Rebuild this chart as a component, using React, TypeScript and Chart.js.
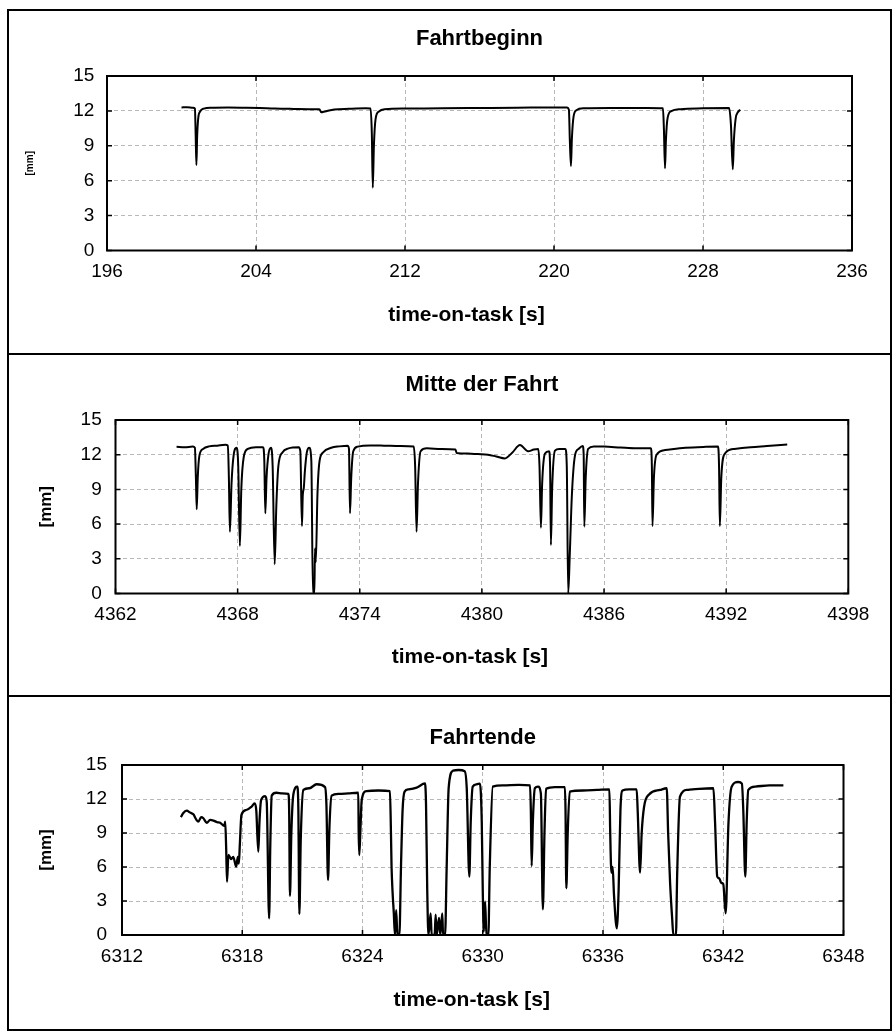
import React, { useEffect, useRef } from 'react';
import { Chart, registerables } from 'chart.js';

Chart.register(...registerables);

const FONT = '"Liberation Sans", Arial, Helvetica, sans-serif';

// ---------- Data ----------
const TITLES = ['Fahrtbeginn', 'Mitte der Fahrt', 'Fahrtende'];
const X_TITLE = 'time-on-task [s]';
const Y_TITLE = '[mm]';

const Y_TICKS = [0, 3, 6, 9, 12, 15];
const X1_TICKS = [196, 204, 212, 220, 228, 236];
const X2_TICKS = [4362, 4368, 4374, 4380, 4386, 4392, 4398];
const X3_TICKS = [6312, 6318, 6324, 6330, 6336, 6342, 6348];

const T1 = [200.0, 200.3, 200.62, 200.72, 200.76, 200.8, 200.84, 200.9, 201.0, 201.2, 201.6, 202.5, 203.5, 204.2, 205.0, 206.0, 207.0, 207.4, 207.5, 207.7, 208.2, 209.0, 209.9, 210.15, 210.22, 210.27, 210.33, 210.42, 210.6, 210.9, 212.0, 214.0, 216.0, 218.0, 220.0, 220.7, 220.8, 220.85, 220.91, 220.96, 221.05, 221.2, 221.6, 223.0, 225.0, 225.85, 225.9, 225.96, 226.01, 226.1, 226.3, 226.8, 228.0, 229.4, 229.5, 229.6, 229.66, 229.75, 229.88, 230.0];
const V1 = [12.3, 12.32, 12.28, 12.2, 10.0, 7.35, 9.8, 11.4, 11.95, 12.2, 12.28, 12.3, 12.28, 12.25, 12.2, 12.17, 12.15, 12.15, 11.88, 11.95, 12.12, 12.18, 12.22, 12.2, 10.0, 5.4, 9.0, 11.3, 11.95, 12.15, 12.2, 12.23, 12.25, 12.27, 12.3, 12.3, 12.1, 9.5, 7.27, 9.6, 11.5, 12.05, 12.22, 12.25, 12.25, 12.22, 10.5, 7.07, 9.5, 11.4, 11.98, 12.15, 12.22, 12.25, 10.8, 6.98, 9.5, 11.3, 11.9, 12.1];

const T2 = [4365.0, 4365.4, 4365.8, 4365.9, 4365.95, 4365.99, 4366.04, 4366.12, 4366.3, 4366.6, 4367.0, 4367.4, 4367.52, 4367.57, 4367.62, 4367.7, 4367.8, 4367.95, 4368.03, 4368.11, 4368.18, 4368.3, 4368.5, 4368.9, 4369.25, 4369.31, 4369.36, 4369.42, 4369.52, 4369.64, 4369.72, 4369.82, 4369.9, 4370.0, 4370.2, 4370.5, 4371.0, 4371.08, 4371.16, 4371.2, 4371.25, 4371.3, 4371.4, 4371.52, 4371.62, 4371.7, 4371.77, 4371.8, 4371.84, 4371.92, 4372.02, 4372.2, 4372.6, 4373.0, 4373.4, 4373.47, 4373.52, 4373.58, 4373.68, 4373.9, 4374.5, 4375.2, 4376.0, 4376.65, 4376.72, 4376.79, 4376.86, 4376.99, 4377.3, 4378.0, 4378.7, 4378.76, 4379.3, 4379.8, 4380.3, 4380.7, 4381.13, 4381.5, 4381.87, 4382.27, 4382.55, 4382.77, 4382.83, 4382.9, 4382.96, 4383.1, 4383.3, 4383.35, 4383.39, 4383.45, 4383.59, 4383.8, 4384.1, 4384.17, 4384.24, 4384.32, 4384.42, 4384.57, 4384.75, 4384.95, 4385.0, 4385.03, 4385.1, 4385.22, 4385.5, 4386.0, 4386.8, 4387.6, 4388.3, 4388.35, 4388.38, 4388.45, 4388.58, 4389.0, 4390.0, 4391.0, 4391.6, 4391.65, 4391.69, 4391.76, 4391.94, 4392.4, 4393.2, 4394.0, 4395.0];
const V2 = [12.68, 12.65, 12.7, 12.6, 10.0, 7.28, 10.0, 11.9, 12.5, 12.72, 12.78, 12.85, 12.8, 10.0, 5.34, 9.5, 11.9, 12.6, 11.0, 4.1, 9.0, 11.8, 12.5, 12.65, 12.65, 11.5, 6.93, 10.0, 12.1, 12.6, 11.0, 2.52, 7.5, 11.0, 12.2, 12.55, 12.65, 12.3, 5.83, 8.5, 9.1, 10.5, 12.2, 12.6, 11.5, 0, 0, 3.9, 2.7, 8.5, 11.4, 12.2, 12.6, 12.72, 12.78, 12.5, 6.93, 10.0, 12.3, 12.7, 12.8, 12.78, 12.75, 12.7, 11.0, 5.34, 9.5, 12.3, 12.55, 12.5, 12.45, 12.15, 12.1, 12.05, 12.0, 11.85, 11.68, 12.2, 12.83, 12.3, 12.45, 12.5, 11.0, 5.69, 9.5, 12.1, 12.3, 11.0, 4.19, 9.0, 12.35, 12.5, 12.5, 11.0, 0, 3.5, 8.5, 11.9, 12.5, 12.75, 12.0, 5.77, 10.0, 12.5, 12.7, 12.7, 12.62, 12.55, 12.55, 11.0, 5.83, 10.0, 12.0, 12.4, 12.6, 12.68, 12.7, 11.0, 5.83, 10.0, 12.1, 12.5, 12.65, 12.75, 12.88];

const T3 = [6314.94, 6315.05, 6315.23, 6315.4, 6315.56, 6315.7, 6315.81, 6315.95, 6316.06, 6316.23, 6316.4, 6316.56, 6316.75, 6316.9, 6317.1, 6317.15, 6317.2, 6317.24, 6317.31, 6317.45, 6317.55, 6317.7, 6317.78, 6317.83, 6317.88, 6317.96, 6318.2, 6318.45, 6318.62, 6318.7, 6318.8, 6318.86, 6318.94, 6319.14, 6319.22, 6319.34, 6319.4, 6319.47, 6319.7, 6320.0, 6320.3, 6320.34, 6320.38, 6320.45, 6320.55, 6320.75, 6320.8, 6320.85, 6320.92, 6321.05, 6321.35, 6321.71, 6322.13, 6322.2, 6322.28, 6322.35, 6322.46, 6322.8, 6323.3, 6323.79, 6323.81, 6323.84, 6323.9, 6323.96, 6324.2, 6324.8, 6325.37, 6325.42, 6325.45, 6325.5, 6325.56, 6325.62, 6325.68, 6325.74, 6325.84, 6325.92, 6326.0, 6326.1, 6326.3, 6326.7, 6327.12, 6327.17, 6327.23, 6327.29, 6327.4, 6327.45, 6327.6, 6327.65, 6327.7, 6327.82, 6327.88, 6327.98, 6328.02, 6328.12, 6328.2, 6328.3, 6328.52, 6328.8, 6329.1, 6329.2, 6329.33, 6329.4, 6329.5, 6329.7, 6329.86, 6329.95, 6330.0, 6330.05, 6330.12, 6330.18, 6330.28, 6330.35, 6330.5, 6331.0, 6331.8, 6332.36, 6332.4, 6332.44, 6332.5, 6332.6, 6332.76, 6332.9, 6333.0, 6333.08, 6333.16, 6333.6, 6334.1, 6334.13, 6334.17, 6334.24, 6334.34, 6335.0, 6335.7, 6336.32, 6336.36, 6336.42, 6336.48, 6336.55, 6336.69, 6336.78, 6336.87, 6336.97, 6337.3, 6337.68, 6337.73, 6337.85, 6337.93, 6338.05, 6338.3, 6338.85, 6339.18, 6339.25, 6339.35, 6339.45, 6339.51, 6339.64, 6339.7, 6339.84, 6340.2, 6340.8, 6341.51, 6341.59, 6341.7, 6341.8, 6341.9, 6342.0, 6342.12, 6342.26, 6342.42, 6342.75, 6342.93, 6343.0, 6343.1, 6343.17, 6343.25, 6343.6, 6344.3, 6345.0];
const V3 = [10.4, 10.75, 10.97, 10.8, 10.65, 10.2, 10.0, 10.4, 10.3, 9.9, 10.15, 10.1, 9.95, 9.9, 9.62, 10.0, 7.5, 4.7, 7.06, 6.7, 6.9, 6.03, 6.9, 6.3, 8.0, 10.6, 11.03, 11.3, 11.62, 11.0, 7.35, 10.0, 11.9, 12.25, 11.8, 1.47, 8.0, 12.3, 12.55, 12.5, 12.45, 11.0, 3.44, 9.0, 12.4, 13.09, 11.0, 1.85, 8.5, 12.8, 12.95, 13.3, 13.05, 11.5, 4.85, 9.5, 12.3, 12.45, 12.5, 12.55, 9.0, 7.06, 9.5, 11.9, 12.7, 12.75, 12.7, 9.0, 6.03, 3.8, 2.0, 0, 2.2, 0, 0, 6.0, 11.0, 12.65, 12.85, 13.0, 13.37, 11.5, 4.0, 0, 1.9, 0, 0, 1.8, 0, 1.5, 0, 1.9, 0, 0, 6.0, 13.0, 14.5, 14.56, 14.45, 13.0, 5.15, 10.0, 13.09, 13.3, 13.35, 10.0, 4.0, 0.3, 2.94, 0, 0, 6.0, 13.09, 13.2, 13.25, 13.2, 11.0, 6.09, 10.0, 12.95, 13.09, 12.5, 2.27, 9.0, 12.9, 13.05, 13.05, 11.0, 4.12, 9.0, 12.65, 12.75, 12.8, 12.85, 9.0, 5.5, 6.0, 3.5, 0.59, 4.0, 11.0, 12.74, 12.85, 12.85, 11.0, 5.5, 9.0, 11.32, 12.4, 12.8, 12.95, 9.0, 4.5, 1.5, 0, 0, 5.3, 12.2, 12.8, 12.9, 12.95, 10.0, 5.15, 5.0, 4.6, 4.5, 1.91, 9.86, 13.09, 13.5, 13.35, 11.0, 5.15, 10.0, 12.8, 13.1, 13.2, 13.2];

// ---------- Layout (per panel) ----------
type PanelCfg = {
  title: string;
  t: number[];
  v: number[];
  xTicks: number[];
  top: number;
  h: number;
  yw: number;
  padRight: number;
  xh: number;
  titlePad: { top: number; bottom: number };
  xTitleFromBottom: number;
  xTitleShift: number;
  yTitleSize: number;
  yTitlePadT: number;
  yTickPad: number;
  xTickPad: number;
  lineWidth: number;
};

// title font 22px bold -> line height 26.4
const PANELS: PanelCfg[] = [
  { title: TITLES[0], t: T1, v: V1, xTicks: X1_TICKS, top: 11, h: 342, yw: 98, padRight: 38, xh: 102.5,
    titlePad: { top: 14.8, bottom: 23.8 }, xTitleFromBottom: 38, xTitleShift: -13, yTitleSize: 10, yTitlePadT: 15, yTickPad: 12.7, xTickPad: 10.3, lineWidth: 2 },
  { title: TITLES[1], t: T2, v: V2, xTicks: X2_TICKS, top: 355, h: 340, yw: 106.5, padRight: 41.7, xh: 101.5,
    titlePad: { top: 16.8, bottom: 21.8 }, xTitleFromBottom: 38, xTitleShift: -12, yTitleSize: 17, yTitlePadT: 26.8, yTickPad: 13.8, xTickPad: 10.3, lineWidth: 2 },
  { title: TITLES[2], t: T3, v: V3, xTicks: X3_TICKS, top: 697, h: 332, yw: 113, padRight: 46.5, xh: 94,
    titlePad: { top: 27.8, bottom: 13.8 }, xTitleFromBottom: 29, xTitleShift: -11, yTitleSize: 17, yTitlePadT: 26.8, yTickPad: 15, xTickPad: 10.3, lineWidth: 2.3 },
];

const framePlugin = {
  id: 'frameTicks',
  afterDraw(chart: any, _args: any, opts: any) {
    const { ctx, chartArea: a, scales } = chart;
    ctx.save();
    ctx.strokeStyle = '#000';
    ctx.lineWidth = 1.5;
    const tl = 5;
    ctx.beginPath();
    scales.x.ticks.forEach((tk: any) => {
      const px = scales.x.getPixelForValue(tk.value);
      ctx.moveTo(px, a.bottom); ctx.lineTo(px, a.bottom - tl);
      ctx.moveTo(px, a.top); ctx.lineTo(px, a.top + tl);
    });
    scales.y.ticks.forEach((tk: any) => {
      const py = scales.y.getPixelForValue(tk.value);
      ctx.moveTo(a.left, py); ctx.lineTo(a.left + tl, py);
      ctx.moveTo(a.right, py); ctx.lineTo(a.right - tl, py);
    });
    ctx.stroke();
    ctx.lineWidth = 2;
    ctx.strokeRect(a.left, a.top, a.right - a.left, a.bottom - a.top);
    // x-axis title (drawn here so it can sit slightly left of the plot centre, as in the original)
    ctx.fillStyle = '#000';
    ctx.font = `bold 21px ${FONT}`;
    ctx.textAlign = 'center';
    ctx.textBaseline = 'middle';
    ctx.fillText(opts.text, (a.left + a.right) / 2 + opts.shift, chart.height - opts.fromBottom);
    ctx.restore();
  },
};

function Panel({ cfg }: { cfg: PanelCfg }) {
  const ref = useRef<HTMLCanvasElement>(null);
  useEffect(() => {
    const xTicks = cfg.xTicks;
    const chart = new Chart(ref.current as HTMLCanvasElement, {
      type: 'line',
      data: {
        datasets: [
          {
            data: cfg.t.map((t, i) => ({ x: t, y: cfg.v[i] })),
            borderColor: '#000',
            borderWidth: cfg.lineWidth,
            pointRadius: 0,
            fill: false,
            cubicInterpolationMode: 'monotone',
          },
        ],
      },
      options: {
        animation: false,
        responsive: false,
        devicePixelRatio: 1,
        layout: { padding: { left: 0, right: cfg.padRight, top: 0, bottom: 0 } },
        plugins: {
          legend: { display: false },
          tooltip: { enabled: false },
          title: {
            display: true,
            fullSize: false,
            text: cfg.title,
            color: '#000',
            font: { family: FONT, size: 22, weight: 'bold' },
            padding: cfg.titlePad,
          },
          frameTicks: { text: X_TITLE, shift: cfg.xTitleShift, fromBottom: cfg.xTitleFromBottom },
        },
        scales: {
          x: {
            type: 'linear',
            min: xTicks[0],
            max: xTicks[xTicks.length - 1],
            afterBuildTicks: (s: any) => {
              s.ticks = xTicks.map((v) => ({ value: v }));
            },
            afterFit: (s: any) => {
              s.height = cfg.xh;
            },
            ticks: {
              color: '#000',
              font: { family: FONT, size: 19 },
              padding: cfg.xTickPad,
              maxRotation: 0,
              autoSkip: false,
              callback: (val: any) => String(val),
            },
            grid: { color: '#b8b8b8', lineWidth: 1, drawTicks: false },
            border: { display: false, dash: [4, 3] },
            title: { display: false },
          },
          y: {
            type: 'linear',
            min: Y_TICKS[0],
            max: Y_TICKS[Y_TICKS.length - 1],
            afterBuildTicks: (s: any) => {
              s.ticks = Y_TICKS.map((v) => ({ value: v }));
            },
            afterFit: (s: any) => {
              s.width = cfg.yw;
            },
            ticks: {
              color: '#000',
              font: { family: FONT, size: 19 },
              padding: cfg.yTickPad,
              callback: (val: any) => String(val),
            },
            grid: { color: '#b8b8b8', lineWidth: 1, drawTicks: false },
            border: { display: false, dash: [4, 3] },
            title: {
              display: true,
              text: Y_TITLE,
              color: '#000',
              font: { family: FONT, size: cfg.yTitleSize, weight: 'bold' },
              padding: { top: cfg.yTitlePadT, bottom: 0 },
            },
          },
        },
      } as any,
      plugins: [framePlugin],
    });
    return () => chart.destroy();
  }, [cfg]);
  return (
    <canvas
      ref={ref}
      width={881}
      height={cfg.h}
      style={{ position: 'absolute', left: 9, top: cfg.top, width: 881, height: cfg.h, display: 'block' }}
    />
  );
}

export default function App() {
  return (
    <div style={{ position: 'absolute', left: 0, top: 0, width: 892, height: 1036, background: '#fff', overflow: 'hidden' }}>
      <div
        style={{
          position: 'absolute',
          left: 7,
          top: 9,
          width: 885,
          height: 1022,
          boxSizing: 'border-box',
          border: '2px solid #000',
        }}
      />
      <div style={{ position: 'absolute', left: 7, top: 353, width: 885, height: 2, background: '#000' }} />
      <div style={{ position: 'absolute', left: 7, top: 695, width: 885, height: 2, background: '#000' }} />
      {PANELS.map((p, i) => (
        <Panel key={i} cfg={p} />
      ))}
    </div>
  );
}
